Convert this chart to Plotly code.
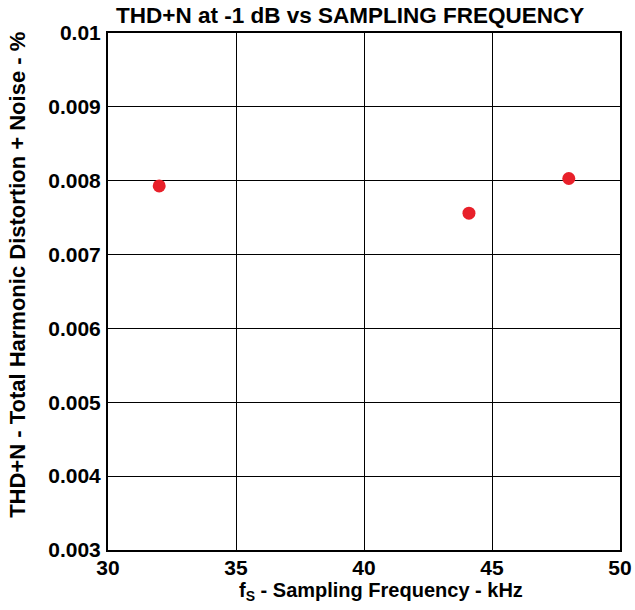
import plotly.graph_objects as go

fs_khz = [32.0, 44.1, 48.0]
thdn_pct = [0.00793, 0.00756, 0.00803]
x_ticks = [30, 35, 40, 45, 50]
y_ticks = [0.003, 0.004, 0.005, 0.006, 0.007, 0.008, 0.009, 0.01]
y_tick_text = ["0.003", "0.004", "0.005", "0.006", "0.007", "0.008", "0.009", "0.01"]

FONT = "Liberation Sans, Arial, sans-serif"

fig = go.Figure()
fig.add_trace(go.Scatter(
    x=fs_khz, y=thdn_pct, mode="markers",
    marker=dict(color="#e8202a", size=13, line=dict(width=0)),
    showlegend=False,
))

fig.update_layout(
    width=635, height=610,
    margin=dict(l=108, r=15, t=33, b=60),
    plot_bgcolor="white", paper_bgcolor="white",
    font=dict(family=FONT, color="black"),
    annotations=[
        dict(text="<b>THD+N at -1 dB vs SAMPLING FREQUENCY</b>",
             xref="paper", yref="paper", x=0.472, y=1.033,
             xanchor="center", yanchor="middle", showarrow=False,
             font=dict(size=22.5, family=FONT, color="black")),
        dict(text="<b>THD+N - Total Harmonic Distortion + Noise - %</b>",
             xref="paper", yref="paper", x=-0.176, y=0.532, textangle=-90,
             xanchor="center", yanchor="middle", showarrow=False,
             font=dict(size=22, family=FONT, color="black")),
        dict(text="<b>f<sub>S</sub> - Sampling Frequency - kHz</b>",
             xref="paper", yref="paper", x=0.534, y=-0.081,
             xanchor="center", yanchor="middle", showarrow=False,
             font=dict(size=20, family=FONT, color="black")),
    ],
)
fig.update_xaxes(
    range=[30, 50], tickvals=x_ticks, ticktext=[f"<b>{v}</b>" for v in x_ticks],
    tickfont=dict(size=21, family=FONT, color="black"),
    showgrid=True, gridcolor="black", gridwidth=1,
    showline=True, linecolor="black", linewidth=2, mirror=True,
    ticks="", zeroline=False, automargin=False, ticklabelstandoff=-2,
)
fig.update_yaxes(
    range=[0.003, 0.01], tickvals=y_ticks, ticktext=[f"<b>{t}</b>" for t in y_tick_text],
    tickfont=dict(size=21, family=FONT, color="black"),
    showgrid=True, gridcolor="black", gridwidth=1,
    showline=True, linecolor="black", linewidth=2, mirror=True,
    ticks="", zeroline=False, automargin=False, ticklabelstandoff=1,
)

fig.write_html("out.html", config={"displayModeBar": False},
               post_script="document.body.style.margin='0';")
